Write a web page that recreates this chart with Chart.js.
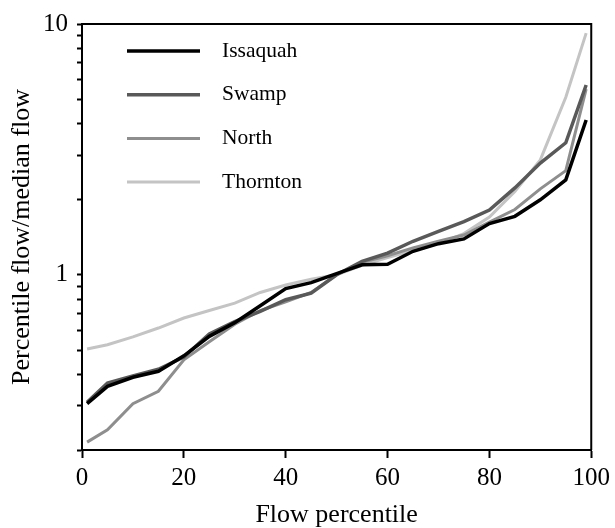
<!DOCTYPE html>
<html>
<head>
<meta charset="utf-8">
<script src="https://cdn.jsdelivr.net/npm/chart.js@4"></script>
<style>
  html, body { margin: 0; padding: 0; background: #ffffff; }
  #wrap { width: 615px; height: 528px; position: relative; }
</style>
</head>
<body>
<div id="wrap"><canvas id="flowChart"></canvas></div>
<script>
// flow percentiles (x) and percentile flow / median flow for each stream
const percentiles = [1, 5, 10, 15, 20, 25, 30, 35, 40, 45, 50, 55, 60, 65, 70, 75, 80, 85, 90, 95, 99];
const issaquah = [0.306, 0.359, 0.39, 0.412, 0.475, 0.568, 0.644, 0.752, 0.88, 0.93, 1.01, 1.096, 1.10, 1.24, 1.33, 1.39, 1.6, 1.71, 1.99, 2.39, 4.14];
const swamp    = [0.31, 0.37, 0.395, 0.42, 0.47, 0.58, 0.65, 0.714, 0.795, 0.845, 1.0, 1.13, 1.22, 1.36, 1.49, 1.63, 1.81, 2.22, 2.79, 3.36, 5.71];
const north    = [0.215, 0.241, 0.306, 0.343, 0.458, 0.54, 0.635, 0.72, 0.78, 0.85, 1.0, 1.12, 1.19, 1.28, 1.36, 1.44, 1.62, 1.82, 2.2, 2.6, 5.5];
const thornton = [0.506, 0.526, 0.565, 0.613, 0.672, 0.72, 0.77, 0.85, 0.91, 0.96, 1.0, 1.09, 1.17, 1.25, 1.33, 1.46, 1.7, 2.15, 2.87, 5.1, 9.2];

const seriesNames = ["Issaquah", "Swamp", "North", "Thornton"];
const seriesColors = ["#000000", "#595959", "#8e8e8e", "#c4c4c4"];
const seriesWidths = [3.5, 3.5, 3, 3];

const xTicks = [0, 20, 40, 60, 80, 100];
const yTicks = [0.2, 0.3, 0.4, 0.5, 0.6, 0.7, 0.8, 0.9, 1, 2, 3, 4, 5, 6, 7, 8, 9, 10];
const yLabeled = [1, 10];

const serif = "'Liberation Serif', 'Times New Roman', serif";
Chart.defaults.font.family = serif;
Chart.defaults.font.size = 25;
Chart.defaults.color = "#000000";

function toPoints(ys) {
  return percentiles.map((p, i) => ({ x: p, y: ys[i] }));
}

// top and right edges of the plot frame
const framePlugin = {
  id: "frame",
  afterDraw(chart) {
    const { ctx, chartArea: a } = chart;
    ctx.save();
    ctx.strokeStyle = "#000";
    ctx.lineWidth = 2;
    ctx.beginPath();
    ctx.moveTo(a.left, a.top);
    ctx.lineTo(a.right, a.top);
    ctx.lineTo(a.right, a.bottom);
    ctx.stroke();
    ctx.restore();
  }
};

// legend drawn inside the plot, upper-left
const innerLegend = {
  id: "innerLegend",
  afterDraw(chart) {
    const { ctx, chartArea: a } = chart;
    ctx.save();
    ctx.font = "21.5px " + serif;
    ctx.textBaseline = "middle";
    chart.data.datasets.forEach((ds, i) => {
      const y = a.top + 27 + i * 43.7;
      ctx.strokeStyle = ds.borderColor;
      ctx.lineWidth = ds.borderWidth;
      ctx.beginPath();
      ctx.moveTo(a.left + 45, y);
      ctx.lineTo(a.left + 118, y);
      ctx.stroke();
      ctx.fillStyle = "#000";
      ctx.fillText(ds.label, a.left + 140, y);
    });
    ctx.restore();
  }
};

const allSeries = [issaquah, swamp, north, thornton];

new Chart(document.getElementById("flowChart"), {
  type: "line",
  data: {
    datasets: allSeries.map((ys, i) => ({
      label: seriesNames[i],
      data: toPoints(ys),
      borderColor: seriesColors[i],
      borderWidth: seriesWidths[i],
      pointRadius: 0,
      tension: 0,
      fill: false
    }))
  },
  options: {
    responsive: true,
    maintainAspectRatio: false,
    animation: false,
    layout: { padding: { top: 24, right: 21, left: 0, bottom: 0 } },
    plugins: { legend: { display: false }, tooltip: { enabled: false } },
    scales: {
      x: {
        type: "linear",
        min: 0,
        max: 100,
        afterBuildTicks: (scale) => { scale.ticks = xTicks.map(v => ({ value: v })); },
        afterFit: (scale) => { scale.height = 78; },
        grid: { drawOnChartArea: false, tickLength: 8, tickWidth: 2, tickColor: "#000" },
        border: { display: true, color: "#000", width: 2 },
        ticks: { padding: 5, maxRotation: 0, autoSkip: false, font: { size: 25 } },
        title: { display: true, text: "Flow percentile", font: { size: 26, lineHeight: 1.0 }, padding: { top: 0, bottom: 0 } }
      },
      y: {
        type: "logarithmic",
        min: 0.2,
        max: 10,
        afterBuildTicks: (scale) => { scale.ticks = yTicks.map(v => ({ value: v })); },
        afterFit: (scale) => { scale.width = 82; },
        grid: { drawOnChartArea: false, tickLength: 5, tickWidth: 2, tickColor: "#000" },
        border: { display: true, color: "#000", width: 2 },
        ticks: {
          autoSkip: false,
          padding: 9,
          font: { size: 25 },
          callback: (v) => yLabeled.includes(v) ? String(v) : ""
        },
        title: { display: true, text: "Percentile flow/median flow", font: { size: 26 }, padding: { top: 7, bottom: 0 } }
      }
    }
  },
  plugins: [framePlugin, innerLegend]
});
</script>
</body>
</html>
